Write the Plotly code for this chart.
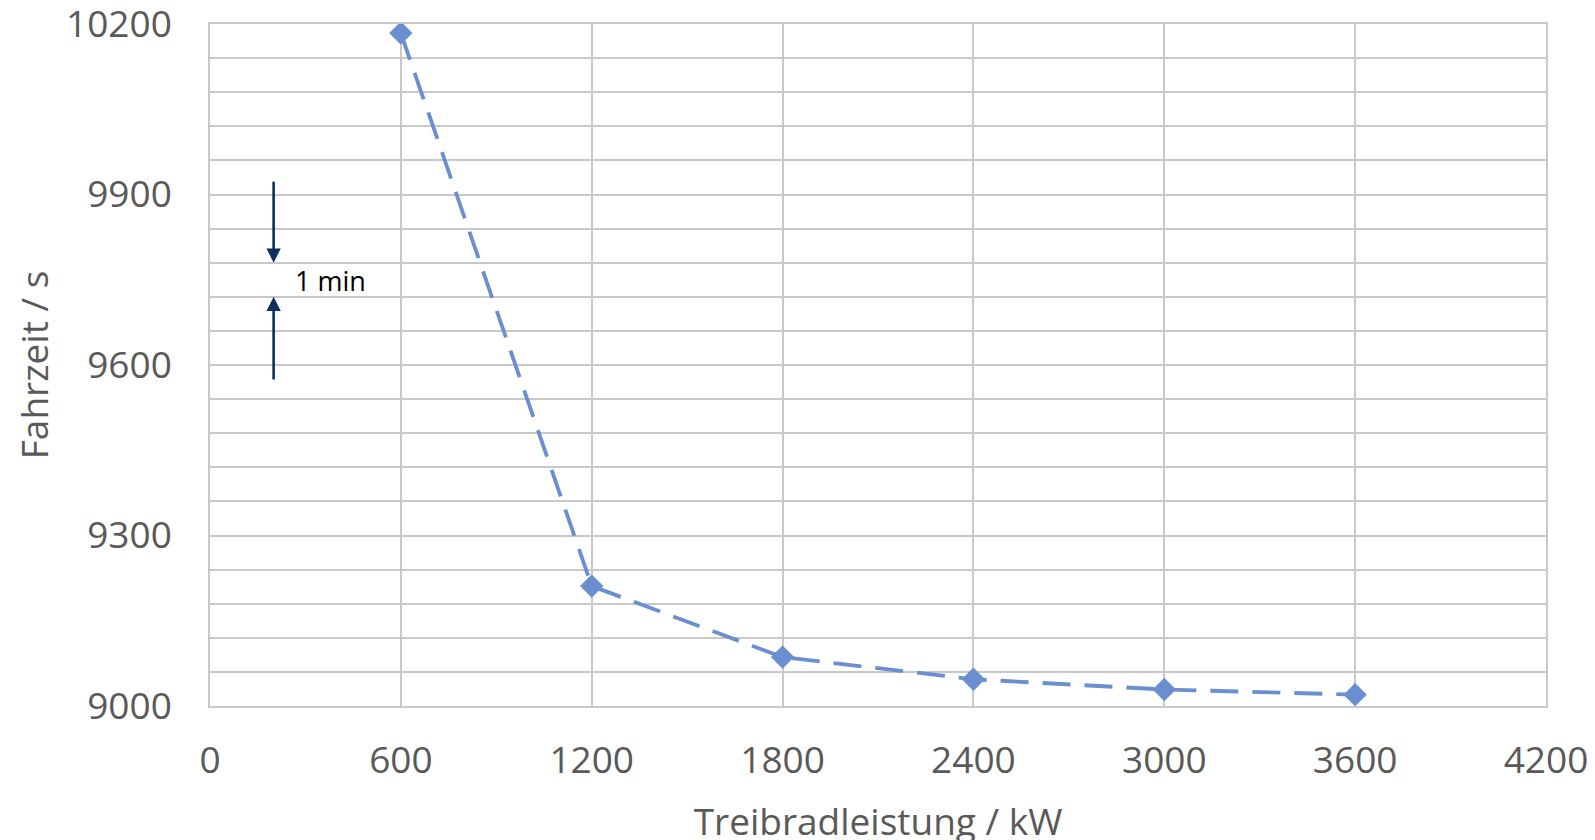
import plotly.graph_objects as go

power_kw = [600, 1200, 1800, 2400, 3000, 3600]
travel_time_s = [10184, 9211, 9086, 9047, 9029, 9020]

x_ticks = [0, 600, 1200, 1800, 2400, 3000, 3600, 4200]
y_ticks = [9000, 9300, 9600, 9900, 10200]

line_color = "#6A8FD0"
arrow_color = "#0B3060"
grid_color = "#C9C9C9"
text_color = "#595959"
font_family = "Open Sans, Noto Sans, sans-serif"

fig = go.Figure()
fig.add_trace(go.Scatter(
    x=power_kw, y=travel_time_s, mode="lines+markers",
    line=dict(color=line_color, width=3.8, dash="28px,14px"),
    marker=dict(symbol="diamond", size=18, color=line_color),
    showlegend=False, cliponaxis=False,
))

# 1-minute scale arrows
fig.add_annotation(x=200, y=9780, ax=200, ay=9925, xref="x", yref="y", axref="x", ayref="y",
                   showarrow=True, arrowhead=2, arrowsize=1.1, arrowwidth=2.6, arrowcolor=arrow_color, text="")
fig.add_annotation(x=200, y=9720, ax=200, ay=9572, xref="x", yref="y", axref="x", ayref="y",
                   showarrow=True, arrowhead=2, arrowsize=1.1, arrowwidth=2.6, arrowcolor=arrow_color, text="")
fig.add_annotation(x=262, y=9748, xref="x", yref="y", text="1 min", showarrow=False,
                   xanchor="left", yanchor="middle",
                   font=dict(family=font_family, size=27, color="#000000"))

fig.update_layout(
    width=1595, height=840,
    margin=dict(l=202, r=57, t=16, b=142),
    paper_bgcolor="white", plot_bgcolor="white",
    font=dict(family=font_family, color=text_color),
    xaxis=dict(
        range=[0, 4200], tickvals=x_ticks, ticktext=[str(v) for v in x_ticks],
        showgrid=True, gridcolor=grid_color, gridwidth=1.5,
        showline=True, linecolor=grid_color, linewidth=1.5, mirror=True,
        zeroline=False, ticks="", ticklen=0, automargin=False,
        tickfont=dict(size=37, color=text_color), ticklabelstandoff=21,
        ticklabeloverflow="allow",
        title=dict(text="Treibradleistung / kW", font=dict(size=37, color=text_color), standoff=26),
    ),
    yaxis=dict(
        range=[9000, 10200], tickvals=y_ticks, ticktext=[str(v) for v in y_ticks],
        showgrid=True, gridcolor=grid_color, gridwidth=1.5,
        minor=dict(dtick=60, tick0=9000, showgrid=True, gridcolor=grid_color, gridwidth=1.5),
        showline=True, linecolor=grid_color, linewidth=1.5, mirror=True,
        zeroline=False, ticks="", ticklen=0, automargin=False,
        tickfont=dict(size=37, color=text_color), ticklabelstandoff=29,
        ticklabeloverflow="allow",
        title=dict(text="Fahrzeit / s", font=dict(size=37, color=text_color), standoff=42),
    ),
)

fig.write_html("out.html")
